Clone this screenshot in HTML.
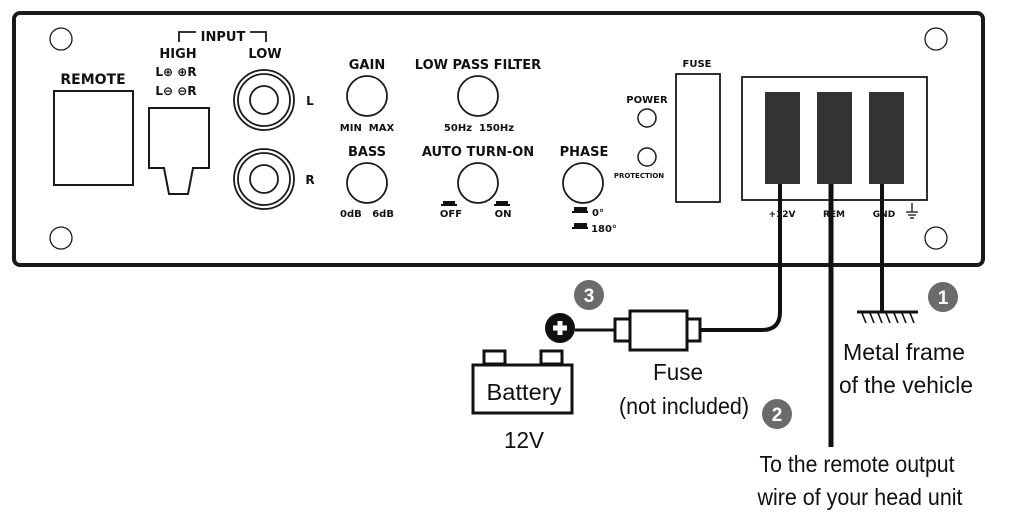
<!DOCTYPE html>
<html><head><meta charset="utf-8"><style>
html,body{margin:0;padding:0;background:#fff;}
svg{display:block;}
.b{font-family:"DejaVu Sans","Liberation Sans",sans-serif;font-weight:bold;fill:#111;text-anchor:middle;}
.n{font-family:"Liberation Sans Narrow","Liberation Sans",sans-serif;fill:#111;text-anchor:middle;font-size:23px;}
</style></head><body>
<svg width="1025" height="514" viewBox="0 0 1025 514" xmlns="http://www.w3.org/2000/svg">
<g fill="none" stroke="#1a1a1a">
<rect x="14" y="13" width="969" height="252" rx="6" stroke-width="4"/>
<g stroke-width="1.3"><circle cx="61" cy="39" r="11"/><circle cx="61" cy="238" r="11"/><circle cx="936" cy="39" r="11"/><circle cx="936" cy="238" r="11"/></g>
<rect x="54" y="91" width="79" height="94" stroke-width="2"/>
<path d="M149 108H209V168H193L188 194H169L164 168H149Z" stroke-width="2"/>
<path d="M179 42V32H196M250 32H266V42" stroke-width="1.8"/>
<g stroke-width="1.8"><circle cx="264" cy="100" r="30"/><circle cx="264" cy="100" r="26"/><circle cx="264" cy="100" r="14"/>
<circle cx="264" cy="179" r="30"/><circle cx="264" cy="179" r="26"/><circle cx="264" cy="179" r="14"/></g>
<g stroke-width="1.8"><circle cx="367" cy="96" r="20"/><circle cx="367" cy="183" r="20"/><circle cx="478" cy="96" r="20"/><circle cx="478" cy="183" r="20"/><circle cx="583" cy="183" r="20"/></g>
<g stroke-width="1.5"><circle cx="647" cy="118" r="9"/><circle cx="647" cy="157" r="9"/></g>
<rect x="676" y="74" width="44" height="128" stroke-width="1.8"/>
<rect x="742" y="77" width="185" height="123" stroke-width="1.8"/>
</g>
<g fill="#333"><rect x="765" y="92" width="35" height="92"/><rect x="817" y="92" width="35" height="92"/><rect x="869" y="92" width="35" height="92"/></g>
<g fill="#111">
<rect x="443" y="201" width="12" height="4"/><rect x="441" y="204" width="16" height="2"/>
<rect x="496" y="201" width="12" height="4"/><rect x="494" y="204" width="16" height="2"/>
<rect x="574" y="207" width="13" height="5"/><rect x="572" y="211" width="16" height="2"/>
<rect x="574" y="223" width="13" height="5"/><rect x="572" y="227" width="16" height="2"/>
</g>
<g class="b">
<text x="93" y="84" font-size="14">REMOTE</text>
<text x="223" y="41" font-size="13">INPUT</text>
<text x="178" y="58" font-size="13">HIGH</text>
<text x="265" y="58" font-size="13">LOW</text>
<text x="176" y="76" font-size="12">L⊕ ⊕R</text>
<text x="176" y="95" font-size="12">L⊖ ⊖R</text>
<text x="310" y="105" font-size="12">L</text>
<text x="310" y="184" font-size="12">R</text>
<text x="367" y="69" font-size="13">GAIN</text>
<text x="367" y="131" font-size="10">MIN&#160;&#160;MAX</text>
<text x="367" y="156" font-size="13">BASS</text>
<text x="367" y="217" font-size="10">0dB&#160;&#160;&#160;6dB</text>
<text x="478" y="69" font-size="13">LOW PASS FILTER</text>
<text x="479" y="131" font-size="10">50Hz&#160;&#160;150Hz</text>
<text x="478" y="156" font-size="13">AUTO TURN-ON</text>
<text x="451" y="217" font-size="10">OFF</text>
<text x="503" y="217" font-size="10">ON</text>
<text x="584" y="156" font-size="13">PHASE</text>
<text x="598" y="216" font-size="10">0°</text>
<text x="604" y="232" font-size="10">180°</text>
<text x="647" y="103" font-size="10">POWER</text>
<text x="639" y="178" font-size="7">PROTECTION</text>
<text x="697" y="67" font-size="10">FUSE</text>
<text x="782" y="217" font-size="9">+12V</text>
<text x="834" y="217" font-size="9">REM</text>
<text x="884" y="217" font-size="9">GND</text>
</g>
<g stroke="#111" stroke-width="1.3"><path d="M912 203V212M906 212H918M908 215H916M910 218H914"/></g>
<g fill="none" stroke="#111">
<path d="M780 184V312Q780 330 762 330H700" stroke-width="4"/>
<path d="M575 330H615" stroke-width="3"/>
<path d="M831 184V447" stroke-width="5"/>
<path d="M882 184V312" stroke-width="4"/>
<path d="M857 312H918" stroke-width="3"/>
<path d="M862 313L866 323M870 313L874 323M878 313L882 323M886 313L890 323M894 313L898 323M902 313L906 323M910 313L914 323" stroke-width="1.6"/>
<rect x="615" y="319" width="15" height="22" stroke-width="3"/>
<rect x="630" y="311" width="57" height="39" stroke-width="3"/>
<rect x="687" y="319" width="13" height="22" stroke-width="3"/>
<rect x="473" y="365" width="99" height="48" stroke-width="3"/>
<rect x="484" y="351" width="21" height="13" stroke-width="3"/>
<rect x="541" y="351" width="21" height="13" stroke-width="3"/>
</g>
<circle cx="560" cy="328" r="15" fill="#111"/>
<path d="M553 328H567M560 321V335" stroke="#fff" stroke-width="5"/>
<g fill="#6b6b6b"><circle cx="589" cy="295" r="15"/><circle cx="943" cy="297" r="15"/><circle cx="777" cy="414" r="15"/></g>
<g font-family="Liberation Sans Narrow,Liberation Sans,sans-serif" font-weight="bold" font-size="19" fill="#fff" text-anchor="middle">
<text x="589" y="302">3</text><text x="943" y="304">1</text><text x="777" y="421">2</text></g>
<g class="n">
<text x="524" y="400" textLength="75" lengthAdjust="spacingAndGlyphs">Battery</text>
<text x="524" y="448" textLength="40" lengthAdjust="spacingAndGlyphs">12V</text>
<text x="678" y="380" textLength="50" lengthAdjust="spacingAndGlyphs">Fuse</text>
<text x="684" y="414" textLength="130" lengthAdjust="spacingAndGlyphs">(not included)</text>
<text x="904" y="360" textLength="122" lengthAdjust="spacingAndGlyphs">Metal frame</text>
<text x="906" y="393" textLength="134" lengthAdjust="spacingAndGlyphs">of the vehicle</text>
<text x="857" y="472" textLength="195" lengthAdjust="spacingAndGlyphs">To the remote output</text>
<text x="860" y="505" textLength="205" lengthAdjust="spacingAndGlyphs">wire of your head unit</text>
</g>
</svg>
</body></html>
